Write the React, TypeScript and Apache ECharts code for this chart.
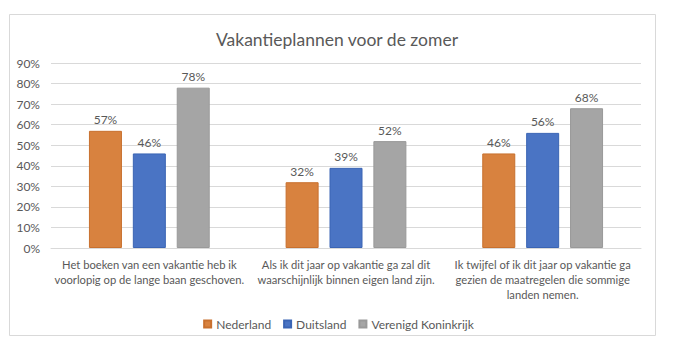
import React, { useEffect, useRef } from "react";
import * as echarts from "echarts";

const title = "Vakantieplannen voor de zomer";
const categories = [
  "Het boeken van een vakantie heb ik\nvoorlopig op de lange baan geschoven.",
  "Als ik dit jaar op vakantie ga zal dit\nwaarschijnlijk binnen eigen land zijn.",
  "Ik twijfel of ik dit jaar op vakantie ga\ngezien de maatregelen die sommige\nlanden nemen.",
];
const seriesNames = ["Nederland", "Duitsland", "Verenigd Koninkrijk"];
const nederland = [57, 32, 46];
const duitsland = [46, 39, 56];
const verenigdKoninkrijk = [78, 52, 68];
const colors = ["#D8823F", "#4A74C4", "#A5A5A5"];
const borders = ["#C8702E", "#3A64B4", "#999999"];

export default function App() {
  const ref = useRef<HTMLDivElement>(null);
  useEffect(() => {
    if (!ref.current) return;
    const chart = echarts.init(ref.current, null, { renderer: "svg" });
    const font = "Lato, 'Open Sans', sans-serif";
    const data = [nederland, duitsland, verenigdKoninkrijk];
    chart.setOption({
      animation: false,
      textStyle: { fontFamily: font },
      title: {
        text: title,
        left: 332,
        top: 25,
        textAlign: "center",
        textStyle: { fontSize: 17.5, fontWeight: "normal", color: "#595959", fontFamily: font },
      },
      graphic: [
        {
          type: "rect",
          shape: { x: 9.5, y: 14.5, width: 646, height: 321 },
          style: { fill: "none", stroke: "#d9d9d9", lineWidth: 1 },
          silent: true,
        },
      ],
      legend: {
        data: seriesNames,
        left: "center",
        top: 313,
        itemWidth: 7,
        itemHeight: 7,
        itemGap: 12,
        icon: "rect",
        textStyle: { fontSize: 12, color: "#595959", fontFamily: font },
      },
      grid: { left: 51, right: 36, top: 63, bottom: 104, containLabel: false },
      xAxis: {
        type: "category",
        data: categories,
        axisLine: { lineStyle: { color: "#d9d9d9" } },
        axisTick: { show: false },
        axisLabel: {
          interval: 0,
          color: "#595959",
          fontSize: 11.2,
          lineHeight: 15,
          margin: 9,
          fontFamily: font,
        },
      },
      yAxis: {
        type: "value",
        min: 0,
        max: 90,
        interval: 10,
        axisLine: { show: false },
        axisTick: { show: false },
        splitLine: { lineStyle: { color: "#d9d9d9" } },
        axisLabel: {
          formatter: "{value}%",
          color: "#595959",
          fontSize: 12,
          margin: 11,
          fontFamily: font,
        },
      },
      series: seriesNames.map((name, i) => ({
        name,
        type: "bar",
        data: data[i],
        barWidth: 33,
        barGap: "33%",
        itemStyle: { color: colors[i], borderColor: borders[i], borderWidth: 1 },
        label: {
          show: true,
          position: "top",
          formatter: "{c}%",
          color: "#595959",
          fontSize: 12,
          distance: 5,
          fontFamily: font,
        },
      })),
    });
    return () => chart.dispose();
  }, []);
  return (
    <div
      ref={ref}
      style={{ position: "fixed", left: 0, top: 0, width: 677, height: 352, background: "#fff" }}
    />
  );
}
